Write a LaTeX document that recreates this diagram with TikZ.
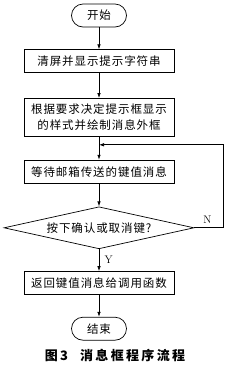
\documentclass[tikz,border=0pt]{standalone}
\usepackage{fontspec}
\usepackage{tikz}
\usetikzlibrary{arrows.meta,positioning,shapes.geometric,calc}
\newfontfamily\cjkbox[LetterSpace=8]{Noto Sans CJK SC}
\newfontfamily\cjkcap[LetterSpace=18]{Noto Sans CJK SC}
\newcommand{\boxfont}{\cjkbox\fontsize{11.5}{16}\selectfont}
\newcommand{\capfont}{\cjkcap\bfseries\fontsize{13}{15}\selectfont}

\begin{document}
\begin{tikzpicture}[
  line width=0.7pt,
  proc/.style={draw, minimum width=150pt, minimum height=23pt, inner sep=1pt,
               align=center, font=\boxfont},
  term/.style={draw, rounded corners=11.5pt, minimum width=55pt,
               minimum height=23pt, inner sep=1pt, font=\boxfont},
  decide/.style={draw, diamond, aspect=4.5, minimum width=190pt,
                 minimum height=42pt, inner sep=0pt, font=\boxfont},
  arrow/.style={-{Latex[length=5pt,width=3.5pt]}},
  yn/.style={font=\rmfamily\fontsize{11}{13}\selectfont}
]
  \useasboundingbox (0,0) rectangle (230pt,-365pt);
  \node[term] (start) at (99pt,-15.5pt) {开始};
  \node[proc,below=22pt of start] (clr) {清屏并显示提示字符串};
  \node[proc,below=25pt of clr,minimum height=38pt] (frame) {根据要求决定提示框显示\\的样式并绘制消息外框};
  \node[proc,below=23pt of frame] (wait) {等待邮箱传送的键值消息};
  \node[decide,below=23pt of wait] (ok) {按下确认或取消键?};
  \node[proc,below=22pt of ok] (ret) {返回键值消息给调用函数};
  \node[term,below=22pt of ret] (stop) {结束};
  \node[font=\capfont] (cap) at (115pt,-356pt) {图3\hspace{12pt}消息框程序流程};
  \foreach \x/\y in {start/clr,clr/frame,frame/wait,wait/ok,ret/stop}{\draw[arrow] (\x) -- (\y);}
  \draw[arrow] (ok) -- node[pos=0.5,right=2pt,yn]{Y} (ret);
  \coordinate (back) at ($(frame.south)!0.35!(wait.north)$);
  \draw[arrow] (ok.east) -- node[pos=0.45,above=1pt,yn]{N} ++(29pt,0) |- (back);
\end{tikzpicture}
\end{document}
